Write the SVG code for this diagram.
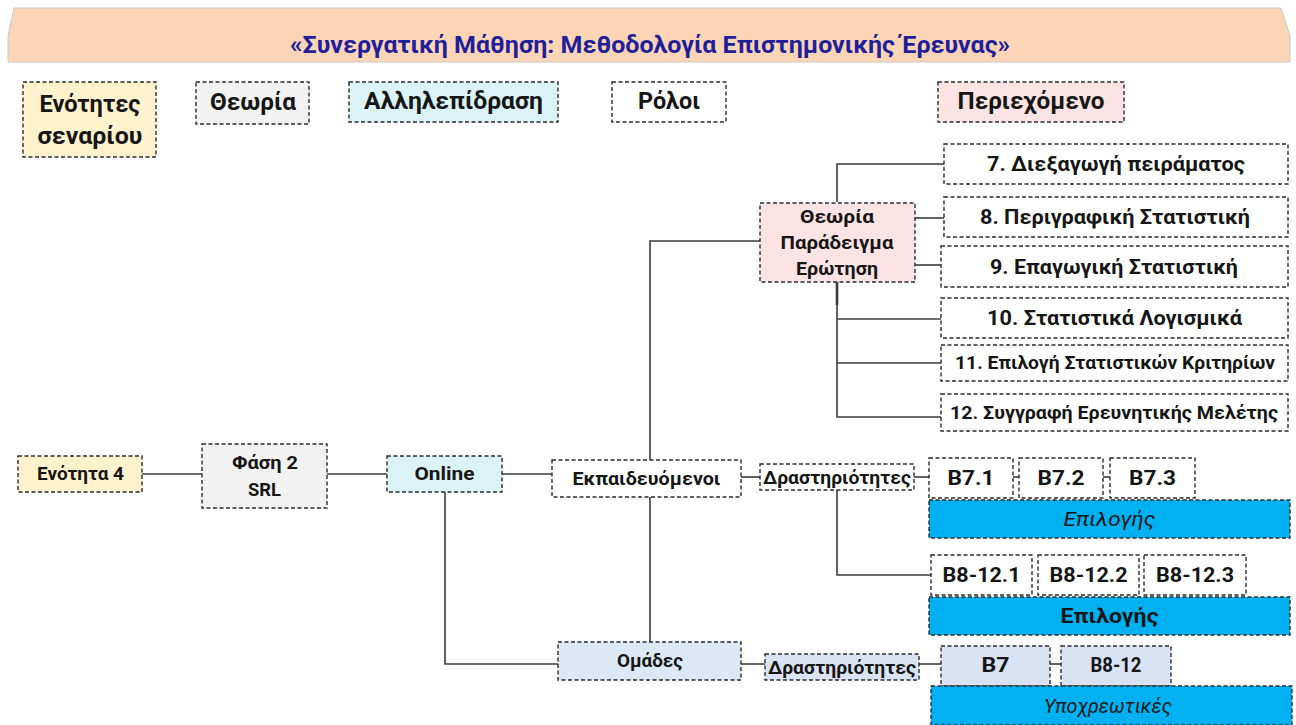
<svg xmlns="http://www.w3.org/2000/svg" width="1296" height="725" viewBox="0 0 1296 725">
  <style>
    .box { stroke: #2b2b2b; stroke-width: 1.4; stroke-dasharray: 4 2.5; }
    .w { fill: #ffffff; }
    .yel { fill: #fff2cc; }
    .gry { fill: #f2f2f2; }
    .cyn { fill: #dbf3f7; }
    .pnk { fill: #fce4e4; }
    .blu { fill: #00b0f0; }
    .lbl { fill: #dde8f5; }
    .lbl2 { fill: #dae3f3; }
    .t { font-family: Roboto, "Noto Sans", "DejaVu Sans", sans-serif; font-weight: bold; fill: #161616; text-anchor: middle; dominant-baseline: central; }
    .it { font-family: Roboto, "Noto Sans", "DejaVu Sans", sans-serif; font-style: italic; fill: #161616; text-anchor: middle; dominant-baseline: central; }
    .lg { font-size: 23px; }
    .md { font-size: 20px; }
    .sm { font-size: 18.5px; }
    .conn { fill: none; stroke: #3c3c3c; stroke-width: 1.6; }
  </style>

  <!-- banner -->
  <g id="title">
    <polygon points="14,8 1281,8 1290,36 1290,62 8,62 8,36" fill="#fbd5b5" stroke="#c8c8c8" stroke-width="1"/>
    <text x="650" y="45" class="t" style="fill:#1f1f9a;font-size:24px" textLength="720" lengthAdjust="spacingAndGlyphs">«Συνεργατική Μάθηση: Μεθοδολογία Επιστημονικής Έρευνας»</text>
  </g>

  <!-- legend -->
  <g id="legend-units">
    <rect x="23" y="82" width="133" height="75" class="box yel"/>
    <text x="90" y="104" class="t lg" textLength="101" lengthAdjust="spacingAndGlyphs">Ενότητες</text>
    <text x="90" y="136" class="t lg" textLength="105" lengthAdjust="spacingAndGlyphs">σεναρίου</text>
  </g>
  <g id="legend-theory">
    <rect x="196" y="82" width="113" height="42" class="box gry"/>
    <text x="253" y="102" class="t lg" textLength="86" lengthAdjust="spacingAndGlyphs">Θεωρία</text>
  </g>
  <g id="legend-interaction">
    <rect x="349" y="82" width="209" height="40" class="box cyn"/>
    <text x="453.5" y="101" class="t lg" textLength="179" lengthAdjust="spacingAndGlyphs">Αλληλεπίδραση</text>
  </g>
  <g id="legend-roles">
    <rect x="612" y="82" width="114" height="40" class="box w"/>
    <text x="669" y="101" class="t lg" textLength="62" lengthAdjust="spacingAndGlyphs">Ρόλοι</text>
  </g>
  <g id="legend-content">
    <rect x="938" y="82" width="186" height="40" class="box pnk"/>
    <text x="1031" y="101" class="t lg" textLength="147" lengthAdjust="spacingAndGlyphs">Περιεχόμενο</text>
  </g>

  <!-- connectors -->
  <g id="connectors" class="conn">
    <path d="M142,474 H202"/>
    <path d="M327,474 H387"/>
    <path d="M502,474 H552"/>
    <path d="M445,492 V664 H558"/>
    <path d="M650,460 V241 H760"/>
    <path d="M650,497 V642"/>
    <path d="M741,477 H760"/>
    <path d="M914,477 H929"/>
    <path d="M1013,477 H1019"/>
    <path d="M1103,477 H1110"/>
    <path d="M837,490 V575 H931"/>
    <path d="M741,664 H765"/>
    <path d="M919,664 H941"/>
    <path d="M1050,664 H1061"/>
    <path d="M837,202 V164 H944"/>
    <path d="M915,218 H944"/>
    <path d="M915,265 H941"/>
    <path d="M837,282 V417 H941"/>
    <path d="M837,319 H941"/>
    <path d="M837,363 H941"/>
    <path d="M837,282 V305" stroke-width="2.6"/>
  </g>

  <!-- scenario path -->
  <g id="unit4">
    <rect x="18" y="456" width="124" height="36" class="box yel"/>
    <text x="80.5" y="474" class="t sm" textLength="87" lengthAdjust="spacingAndGlyphs">Ενότητα 4</text>
  </g>
  <g id="phase2">
    <rect x="202" y="444" width="125" height="64" class="box gry"/>
    <text x="265" y="463" class="t sm" textLength="66" lengthAdjust="spacingAndGlyphs">Φάση 2</text>
    <text x="264.5" y="490" class="t sm" textLength="33" lengthAdjust="spacingAndGlyphs">SRL</text>
  </g>
  <g id="online">
    <rect x="387" y="456" width="115" height="36" class="box cyn"/>
    <text x="444.5" y="474" class="t sm" textLength="60" lengthAdjust="spacingAndGlyphs">Online</text>
  </g>
  <g id="learners">
    <rect x="552" y="460" width="189" height="37" class="box w"/>
    <text x="646.5" y="478.5" class="t sm" textLength="148" lengthAdjust="spacingAndGlyphs">Εκπαιδευόμενοι</text>
  </g>
  <g id="groups">
    <rect x="558" y="642" width="183" height="38" class="box lbl"/>
    <text x="650" y="661" class="t sm" textLength="66" lengthAdjust="spacingAndGlyphs">Ομάδες</text>
  </g>

  <!-- theory node and content list -->
  <g id="theory">
    <rect x="760" y="203" width="155" height="79" class="box pnk"/>
    <text x="837" y="217" class="t sm" textLength="74" lengthAdjust="spacingAndGlyphs">Θεωρία</text>
    <text x="837" y="243" class="t sm" textLength="113" lengthAdjust="spacingAndGlyphs">Παράδειγμα</text>
    <text x="837" y="269" class="t sm" textLength="82" lengthAdjust="spacingAndGlyphs">Ερώτηση</text>
  </g>
  <g id="c7">
    <rect x="944" y="144" width="344" height="40" class="box w"/>
    <text x="1116" y="164" class="t md" textLength="258" lengthAdjust="spacingAndGlyphs">7. Διεξαγωγή πειράματος</text>
  </g>
  <g id="c8">
    <rect x="944" y="197" width="344" height="40" class="box w"/>
    <text x="1115" y="217" class="t md" textLength="270" lengthAdjust="spacingAndGlyphs">8. Περιγραφική Στατιστική</text>
  </g>
  <g id="c9">
    <rect x="941" y="246" width="347" height="41" class="box w"/>
    <text x="1114" y="266.5" class="t md" textLength="248" lengthAdjust="spacingAndGlyphs">9. Επαγωγική Στατιστική</text>
  </g>
  <g id="c10">
    <rect x="941" y="298" width="347" height="40" class="box w"/>
    <text x="1114.5" y="318" class="t md" textLength="255" lengthAdjust="spacingAndGlyphs">10. Στατιστικά Λογισμικά</text>
  </g>
  <g id="c11">
    <rect x="941" y="345" width="347" height="36" class="box w"/>
    <text x="1115" y="363" class="t sm" textLength="320" lengthAdjust="spacingAndGlyphs">11. Επιλογή Στατιστικών Κριτηρίων</text>
  </g>
  <g id="c12">
    <rect x="941" y="394" width="347" height="37" class="box w"/>
    <text x="1114" y="412.5" class="t sm" textLength="328" lengthAdjust="spacingAndGlyphs">12. Συγγραφή Ερευνητικής Μελέτης</text>
  </g>

  <!-- learner activities -->
  <g id="activities">
    <rect x="760" y="464" width="154" height="26" class="box w"/>
    <text x="837" y="477.5" class="t sm" textLength="148" lengthAdjust="spacingAndGlyphs">Δραστηριότητες</text>
  </g>
  <g id="b71">
    <rect x="929" y="458" width="84" height="40" class="box w"/>
    <text x="971" y="478" class="t md" textLength="47" lengthAdjust="spacingAndGlyphs">B7.1</text>
  </g>
  <g id="b72">
    <rect x="1019" y="458" width="84" height="40" class="box w"/>
    <text x="1061" y="478" class="t md" textLength="47" lengthAdjust="spacingAndGlyphs">B7.2</text>
  </g>
  <g id="b73">
    <rect x="1110" y="458" width="85" height="40" class="box w"/>
    <text x="1152.5" y="478" class="t md" textLength="47" lengthAdjust="spacingAndGlyphs">B7.3</text>
  </g>
  <g id="choice1">
    <rect x="929" y="500" width="361" height="38" class="box blu"/>
    <text x="1109.5" y="519" class="it md" textLength="92" lengthAdjust="spacingAndGlyphs">Επιλογής</text>
  </g>
  <g id="b81">
    <rect x="931" y="555" width="101" height="40" class="box w"/>
    <text x="981.5" y="575" class="t md" textLength="78" lengthAdjust="spacingAndGlyphs">B8-12.1</text>
  </g>
  <g id="b82">
    <rect x="1038" y="555" width="101" height="40" class="box w"/>
    <text x="1088.5" y="575" class="t md" textLength="78" lengthAdjust="spacingAndGlyphs">B8-12.2</text>
  </g>
  <g id="b83">
    <rect x="1144" y="555" width="102" height="40" class="box w"/>
    <text x="1195" y="575" class="t md" textLength="78" lengthAdjust="spacingAndGlyphs">B8-12.3</text>
  </g>
  <g id="choice2">
    <rect x="929" y="597" width="361" height="38" class="box blu"/>
    <text x="1109.5" y="616" class="t md" textLength="98" lengthAdjust="spacingAndGlyphs">Επιλογής</text>
  </g>

  <!-- group activities -->
  <g id="group-activities">
    <rect x="765" y="654" width="154" height="26" class="box lbl2"/>
    <text x="842" y="667.5" class="t sm" textLength="148" lengthAdjust="spacingAndGlyphs">Δραστηριότητες</text>
  </g>
  <g id="b7">
    <rect x="941" y="646" width="109" height="40" class="box lbl2"/>
    <text x="995.5" y="665" class="t md" textLength="28" lengthAdjust="spacingAndGlyphs">B7</text>
  </g>
  <g id="b812">
    <rect x="1061" y="646" width="110" height="40" class="box lbl2"/>
    <text x="1116" y="665" class="t md" textLength="51" lengthAdjust="spacingAndGlyphs">B8-12</text>
  </g>
  <g id="mandatory">
    <rect x="931" y="686" width="361" height="39" class="box blu"/>
    <text x="1108" y="706" class="it md" textLength="128" lengthAdjust="spacingAndGlyphs">Υποχρεωτικές</text>
  </g>
</svg>
